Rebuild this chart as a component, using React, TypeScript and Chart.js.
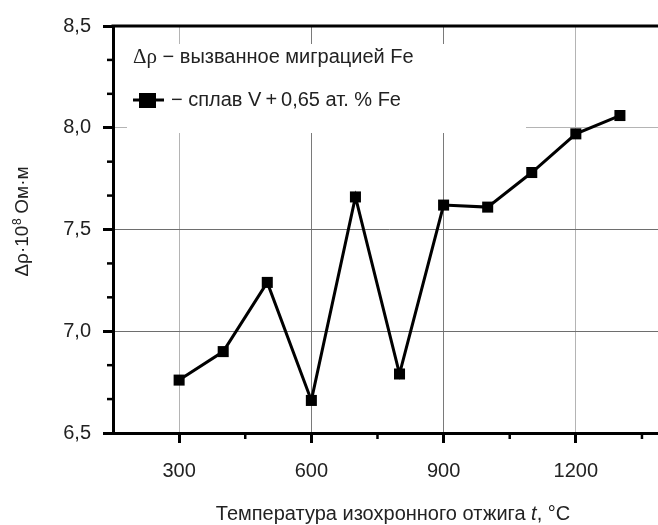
import React, { useEffect, useRef } from 'react';
import { Chart, registerables } from 'chart.js';

Chart.register(...registerables);

const temperatures = [300, 400, 500, 600, 700, 800, 900, 1000, 1100, 1200, 1300];
const resistivity = [6.76, 6.9, 7.24, 6.66, 7.66, 6.79, 7.62, 7.61, 7.78, 7.97, 8.06];
const xMajorTicks = [300, 600, 900, 1200];
const xMinorTicks = [450, 750, 1050, 1350];
const yMajorTicks = [6.5, 7.0, 7.5, 8.0, 8.5];
const yMinorTicks = [6.6667, 6.8333, 7.1667, 7.3333, 7.6667, 7.8333, 8.1667, 8.3333];
const xRange = [150, 1400];
const yRange = [6.5, 8.5];
const legendTitle = ['Δρ', ' − вызванное миграцией Fe'];
const seriesLabel = '− сплав V\u2009+\u20090,65 ат. % Fe';
const xTitle = ['Температура изохронного отжига ', 't', ', °C'];
const yTitle = ['Δρ·10', '8', ' Ом·м'];

const SANS = "'Liberation Sans', Arial, sans-serif";
const SERIF = "'Liberation Serif', 'Times New Roman', serif";

const fmt = (v: number) => v.toFixed(1).replace('.', ',');

const overlayPlugin = {
  id: 'overlay',
  beforeDatasetsDraw(chart: any) {
    const { ctx, chartArea } = chart;
    const L = chartArea.left;
    const T = chartArea.top;
    ctx.save();
    // legend box (white, hides grid)
    ctx.fillStyle = '#ffffff';
    ctx.fillRect(L + 14, T + 18, 399, 89);

    // line 1
    ctx.fillStyle = '#222';
    ctx.textBaseline = 'alphabetic';
    ctx.textAlign = 'left';
    let x = L + 20;
    const b1 = T + 37;
    ctx.font = `21px ${SERIF}`;
    ctx.fillText(legendTitle[0], x, b1);
    x += ctx.measureText(legendTitle[0]).width;
    ctx.font = `20px ${SANS}`;
    ctx.fillText(legendTitle[1], x, b1);

    // line 2 marker
    const my = T + 74;
    ctx.strokeStyle = '#000';
    ctx.lineWidth = 3;
    ctx.beginPath();
    ctx.moveTo(L + 20, my);
    ctx.lineTo(L + 51, my);
    ctx.stroke();
    ctx.fillStyle = '#000';
    ctx.fillRect(L + 26, my - 7, 17, 15);
    ctx.fillStyle = '#222';
    ctx.font = `20px ${SANS}`;
    ctx.fillText(seriesLabel, L + 58, T + 80);
    ctx.restore();
  },
  afterDraw(chart: any) {
    const { ctx, chartArea, scales } = chart;
    const xs = scales.x;
    const ys = scales.y;
    ctx.save();
    ctx.strokeStyle = '#000';
    ctx.lineWidth = 3;
    // top frame line
    ctx.beginPath();
    ctx.moveTo(chartArea.left - 1.5, chartArea.top);
    ctx.lineTo(chartArea.right + 2, chartArea.top);
    ctx.stroke();
    // minor ticks
    ctx.lineWidth = 2.5;
    xMinorTicks.forEach((v) => {
      const px = xs.getPixelForValue(v);
      ctx.beginPath();
      ctx.moveTo(px, chartArea.bottom);
      ctx.lineTo(px, chartArea.bottom + 6);
      ctx.stroke();
    });
    yMinorTicks.forEach((v) => {
      const py = ys.getPixelForValue(v);
      ctx.beginPath();
      ctx.moveTo(chartArea.left - 6, py);
      ctx.lineTo(chartArea.left, py);
      ctx.stroke();
    });

    // x title
    ctx.fillStyle = '#222';
    ctx.textBaseline = 'alphabetic';
    ctx.textAlign = 'left';
    ctx.font = `20px ${SANS}`;
    const w0 = ctx.measureText(xTitle[0]).width;
    ctx.font = `italic 20px ${SANS}`;
    const w1 = ctx.measureText(xTitle[1]).width;
    ctx.font = `20px ${SANS}`;
    const w2 = ctx.measureText(xTitle[2]).width;
    let tx = 393 - (w0 + w1 + w2) / 2;
    const ty = 520;
    ctx.fillText(xTitle[0], tx, ty);
    tx += w0;
    ctx.font = `italic 20px ${SANS}`;
    ctx.fillText(xTitle[1], tx, ty);
    tx += w1;
    ctx.font = `20px ${SANS}`;
    ctx.fillText(xTitle[2], tx, ty);

    // y title (rotated)
    ctx.translate(28, (chartArea.top + chartArea.bottom) / 2 - 8);
    ctx.rotate(-Math.PI / 2);
    ctx.font = `19px ${SANS}`;
    const a = ctx.measureText(yTitle[0]).width;
    ctx.font = `12px ${SANS}`;
    const b = ctx.measureText(yTitle[1]).width;
    ctx.font = `19px ${SANS}`;
    const c = ctx.measureText(yTitle[2]).width;
    let yx = -(a + b + c) / 2;
    ctx.fillText(yTitle[0], yx, 0);
    yx += a;
    ctx.font = `12px ${SANS}`;
    ctx.fillText(yTitle[1], yx + 0.5, -7);
    yx += b;
    ctx.font = `19px ${SANS}`;
    ctx.fillText(yTitle[2], yx, 0);
    ctx.restore();
  },
};

export default function App() {
  const canvasRef = useRef<HTMLCanvasElement | null>(null);

  useEffect(() => {
    const canvas = canvasRef.current;
    if (!canvas) return;
    const chart = new Chart(canvas, {
      type: 'line',
      data: {
        datasets: [
          {
            label: seriesLabel,
            data: temperatures.map((t, i) => ({ x: t, y: resistivity[i] })),
            borderColor: '#000',
            borderWidth: 3,
            backgroundColor: '#000',
            pointStyle: 'rect',
            pointRadius: 7.8,
            pointHoverRadius: 7.8,
            pointBorderWidth: 0,
            pointBackgroundColor: '#000',
            tension: 0,
            clip: false as any,
          },
        ],
      },
      options: {
        animation: false,
        responsive: false,
        events: [],
        layout: { padding: { top: 26, right: 16, left: 0, bottom: 0 } },
        plugins: {
          legend: { display: false },
          tooltip: { enabled: false },
          title: { display: false },
        },
        scales: {
          x: {
            type: 'linear',
            min: xRange[0],
            max: xRange[1],
            afterFit: (s: any) => {
              s.height = 92;
            },
            afterBuildTicks: (s: any) => {
              s.ticks = xMajorTicks.map((v) => ({ value: v }));
            },
            ticks: {
              autoSkip: false,
              maxRotation: 0,
              padding: 16,
              color: '#222',
              font: { family: SANS, size: 20 },
              callback: (v: any) => String(v),
            },
            grid: {
              drawTicks: true,
              tickLength: 10,
              tickWidth: 3,
              tickColor: '#000',
              lineWidth: 1,
              color: (ctx: any) => {
                const v = ctx.tick && ctx.tick.value;
                return v === 300 || v === 1200 ? '#b4b4b4' : '#7a7a7a';
              },
            },
            border: { display: true, color: '#000', width: 3 },
          },
          y: {
            type: 'linear',
            min: yRange[0],
            max: yRange[1],
            afterFit: (s: any) => {
              s.width = 113;
            },
            afterBuildTicks: (s: any) => {
              s.ticks = yMajorTicks.map((v) => ({ value: v }));
            },
            ticks: {
              autoSkip: false,
              padding: 12,
              color: '#222',
              font: { family: SANS, size: 20 },
              callback: (v: any) => fmt(Number(v)),
            },
            grid: {
              drawTicks: true,
              tickLength: 10,
              tickWidth: 3,
              tickColor: '#000',
              lineWidth: 1,
              color: (ctx: any) => {
                const v = ctx.tick && ctx.tick.value;
                if (v === 6.5 || v === 8.5) return 'rgba(0,0,0,0)';
                return v === 8.0 ? '#b4b4b4' : '#6e6e6e';
              },
            },
            border: { display: true, color: '#000', width: 3 },
          },
        },
      },
      plugins: [overlayPlugin],
    });
    return () => chart.destroy();
  }, []);

  return (
    <div
      style={{
        position: 'fixed',
        left: 0,
        top: 0,
        width: 658,
        height: 525,
        overflow: 'hidden',
        background: '#fff',
      }}
    >
      <canvas ref={canvasRef} width={680} height={525} style={{ width: 680, height: 525, display: 'block' }} />
    </div>
  );
}
